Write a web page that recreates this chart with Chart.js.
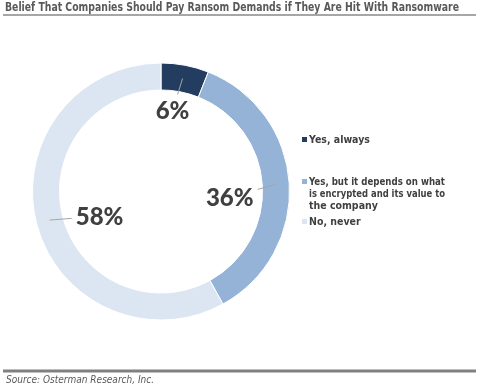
<!DOCTYPE html>
<html>
<head>
<meta charset="utf-8">
<script src="https://cdn.jsdelivr.net/npm/chart.js@4/dist/chart.umd.min.js"></script>
<style>
  html, body { margin: 0; padding: 0; background: #fff; }
  canvas { display: block; }
</style>
</head>
<body>
<canvas id="ransom" width="497" height="389"></canvas>
<script>
// dati
var categories = ['Yes, always', 'Yes, but it depends on what is encrypted and its value to the company', 'No, never'];
var values = [6, 36, 58];
var legendLines = [['Yes, always'], ['Yes, but it depends on what', 'is encrypted and its value to', 'the company'], ['No, never']];
var sliceColors = ['#223d60', '#95b3d7', '#dce6f2'];

var titleText = 'Belief That Companies Should Pay Ransom Demands if They Are Hit With Ransomware';
var sourceText = 'Source: Osterman Research, Inc.';

// spostamento etichette rispetto al punto medio dell'anello
var labelShift = [[-10, 32], [-46, 13], [50, -4]];
// righe della legenda (y del centro)
var legendRows = [[140], [182, 194, 206], [222]];

var decorations = {
  id: 'decorations',
  afterDraw: function (chart) {
    var ctx = chart.ctx;
    ctx.save();

    // titolo
    ctx.fillStyle = '#595959';
    ctx.font = 'bold 12px "DejaVu Sans Condensed", "DejaVu Sans"';
    ctx.textBaseline = 'alphabetic';
    ctx.textAlign = 'left';
    ctx.fillText(titleText, 5, 11, 454);
    ctx.strokeStyle = '#a6a6a6';
    ctx.lineWidth = 2;
    ctx.beginPath();
    ctx.moveTo(3, 15);
    ctx.lineTo(476, 15);
    ctx.stroke();

    // linea e fonte in basso
    ctx.strokeStyle = '#808080';
    ctx.lineWidth = 3;
    ctx.beginPath();
    ctx.moveTo(3, 371);
    ctx.lineTo(476, 371);
    ctx.stroke();
    ctx.fillStyle = '#595959';
    ctx.font = 'italic 10px "DejaVu Sans Condensed", "DejaVu Sans"';
    ctx.fillText(sourceText, 6, 383, 152);

    // legenda
    ctx.font = 'bold 10.5px "DejaVu Sans Condensed", "DejaVu Sans"';
    ctx.textBaseline = 'middle';
    for (var i = 0; i < legendLines.length; i++) {
      ctx.fillStyle = sliceColors[i];
      ctx.fillRect(302, legendRows[i][0] - 3, 5, 5);
      ctx.fillStyle = '#404040';
      for (var j = 0; j < legendLines[i].length; j++) {
        ctx.fillText(legendLines[i][j], 309, legendRows[i][j], 136);
      }
    }

    // etichette percentuali con linee guida
    var meta = chart.getDatasetMeta(0);
    ctx.font = '900 24px Lato, "Open Sans"';
    ctx.textAlign = 'center';
    for (var k = 0; k < meta.data.length; k++) {
      var arc = meta.data[k];
      var mid = (arc.startAngle + arc.endAngle) / 2;
      var rr = (arc.innerRadius + arc.outerRadius) / 2;
      var px = arc.x + Math.cos(mid) * rr;
      var py = arc.y + Math.sin(mid) * rr;
      var lx = px + labelShift[k][0];
      var ly = py + labelShift[k][1];
      var txt = values[k] + '%';
      var w = ctx.measureText(txt).width / 2 + 4;
      var h = 12 + 4;
      var dx = px - lx, dy = py - ly;
      var t = Math.min(Math.abs(w / (dx || 1e-6)), Math.abs(h / (dy || 1e-6)));
      ctx.strokeStyle = '#a6a6a6';
      ctx.lineWidth = 1;
      ctx.beginPath();
      ctx.moveTo(lx + dx * t, ly + dy * t);
      ctx.lineTo(px, py);
      ctx.stroke();
      ctx.fillStyle = '#404040';
      ctx.fillText(txt, lx, ly + 1);
    }
    ctx.restore();
  }
};

new Chart(document.getElementById('ransom'), {
  type: 'doughnut',
  data: {
    labels: categories,
    datasets: [{
      data: values,
      backgroundColor: sliceColors,
      borderColor: '#ffffff',
      borderWidth: 1
    }]
  },
  options: {
    responsive: false,
    devicePixelRatio: 1,
    animation: false,
    cutout: '79%',
    layout: { padding: { left: 32, top: 62, right: 207, bottom: 68 } },
    plugins: {
      legend: { display: false },
      tooltip: { enabled: false }
    }
  },
  plugins: [decorations]
});
</script>
</body>
</html>
